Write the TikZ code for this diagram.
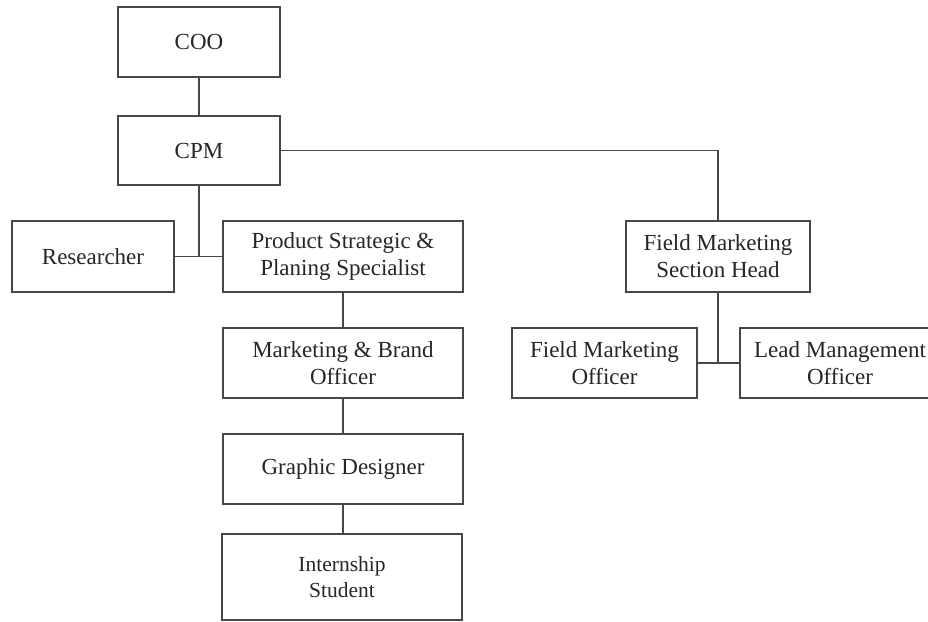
\documentclass[tikz,border=0pt]{standalone}
\usepackage{fontspec}
\setmainfont{Liberation Serif}
\begin{document}
\begin{tikzpicture}[x=1pt,y=-1pt,
  box/.style={draw=black!72, line width=1.3pt, rectangle, align=center, inner sep=2pt,
    text=black!85, font=\fontsize{23}{27}\selectfont},
  link/.style={draw=black!72, line width=1.3pt}]
\clip (0,0) rectangle (928,621);
\node[box, minimum width=162pt, minimum height=70pt] (coo) at (199,42) {COO};
\node[box, minimum width=162pt, minimum height=69pt] (cpm) at (199,150.5) {CPM};
\node[box, minimum width=162pt, minimum height=71pt] (res) at (93,256.5) {Researcher};
\node[box, minimum width=240pt, minimum height=71pt] (ps) at (343,256.5) {Product Strategic \&\\Planing Specialist};
\node[box, minimum width=240pt, minimum height=70pt] (mb) at (343,363) {Marketing \& Brand\\Officer};
\node[box, minimum width=240pt, minimum height=70pt] (gd) at (343,469) {Graphic Designer};
\node[box, minimum width=240pt, minimum height=86pt, font=\fontsize{21.5}{26}\selectfont] (is) at (342,577) {Internship\\Student};
\node[box, minimum width=184pt, minimum height=71pt] (fmsh) at (718,256.5) {Field Marketing\\Section Head};
\node[box, minimum width=185pt, minimum height=70pt] (fmo) at (604.5,363) {Field Marketing\\Officer};
\node[box, minimum width=200pt, minimum height=70pt] (lmo) at (840,363) {Lead Management\\Officer};
\draw[link] (coo.south) -- (cpm.north);
\draw[link] (cpm.south) -- (cpm.south |- res.east);
\draw[link] (res.east) -- (ps.west);
\draw[link] (cpm.east) -| (fmsh.north);
\draw[link] (ps.south) -- (mb.north);
\draw[link] (mb.south) -- (gd.north);
\draw[link] (gd.south) -- (gd.south |- is.north);
\draw[link] (fmsh.south) -- (fmsh.south |- fmo.east);
\draw[link] (fmo.east) -- (lmo.west);
\end{tikzpicture}
\end{document}
